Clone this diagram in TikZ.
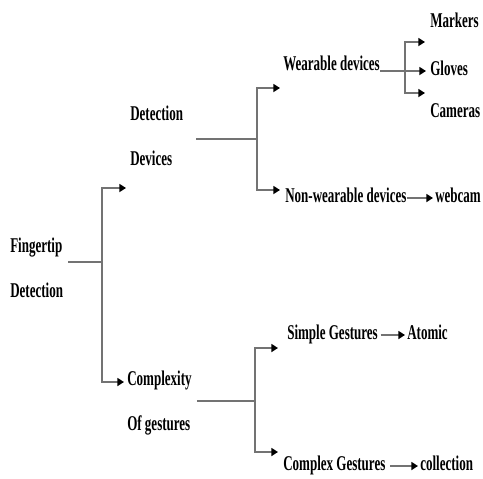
\documentclass[tikz,border=0pt]{standalone}
\usepackage{fontspec}
\setmainfont{Liberation Serif}[FakeStretch=0.62]
\usepackage{tikz}
\usetikzlibrary{positioning,arrows.meta,calc}
\newcommand{\lblfont}{\fontsize{15.75}{34}\selectfont\bfseries}

\begin{document}
\begin{tikzpicture}[
    x=0.75pt, y=-0.75pt,
    lbl/.style={font=\lblfont, inner sep=0pt, anchor=west,
                text height=1.45ex, text depth=0pt},
    lbltwo/.style={font=\lblfont, inner sep=0pt, anchor=west, align=left},
    edge/.style={black!55, line width=1.5pt},
    arr/.style={edge, -{Triangle[length=5pt, width=6pt, color=black]}},
  ]
  \useasboundingbox (0,0) rectangle (483,479);

  % labels
  \node[lbltwo] (root) at (10,268) {Fingertip\\Detection};
  \node[lbltwo] (det)  at (130,136) {Detection\\Devices};
  \node[lbltwo] (cpx)  at (127,403) {Complexity\\Of gestures};
  \node[lbl] (wear) at (283,66)  {Wearable devices};
  \node[lbl] (nonw) at (285,198) {Non-wearable devices};
  \node[lbl] (mark) at (430,23)  {Markers};
  \node[lbl] (glov) at (430,71)  {Gloves};
  \node[lbl] (cam)  at (430,113) {Cameras};
  \node[lbl] (web)  at (435,198) {webcam};
  \node[lbl] (simp) at (287,335) {Simple Gestures};
  \node[lbl] (atom) at (407,335) {Atomic};
  \node[lbl] (cplx) at (283,466) {Complex Gestures};
  \node[lbl] (coll) at (420,466) {collection};

  % junctions and arrow ends
  \coordinate (r)  at (102,262);
  \coordinate (rt) at (126,188);
  \coordinate (rb) at (124,382);
  \coordinate (d)  at (257,139);
  \coordinate (dt) at (280,88);
  \coordinate (db) at (280,190);
  \coordinate (w)  at (405,71);
  \coordinate (wt) at (425,42);
  \coordinate (wb) at (425,93);
  \coordinate (c)  at (255,401);
  \coordinate (ct) at (278,348);
  \coordinate (cb) at (278,452);

  % first level
  \draw[edge] ([xshift=3.75pt]root.east |- r) -- (r);
  \draw[arr] (r) |- (rt);
  \draw[arr] (r) |- (rb);

  % detection devices
  \draw[edge] ([xshift=9.75pt]det.east |- d) -- (d);
  \draw[arr] (d) |- (dt);
  \draw[arr] (d) |- (db);
  \draw[edge] (wear.east |- w) -- (w);
  \draw[arr] (w) |- (wt);
  \draw[arr, shorten >=3pt] (w) -- (glov.west |- w);
  \draw[arr] (w) |- (wb);
  \draw[arr, shorten >=1.5pt] (nonw.east) -- (web.west);

  % complexity of gestures
  \draw[edge] ([xshift=3.75pt]cpx.east |- c) -- (c);
  \draw[arr] (c) |- (ct);
  \draw[arr] (c) |- (cb);
  \draw[arr, shorten <=2pt, shorten >=1.5pt] (simp.east) -- (atom.west);
  \draw[arr, shorten <=3.5pt, shorten >=1.5pt] (cplx.east) -- (coll.west);
\end{tikzpicture}
\end{document}
